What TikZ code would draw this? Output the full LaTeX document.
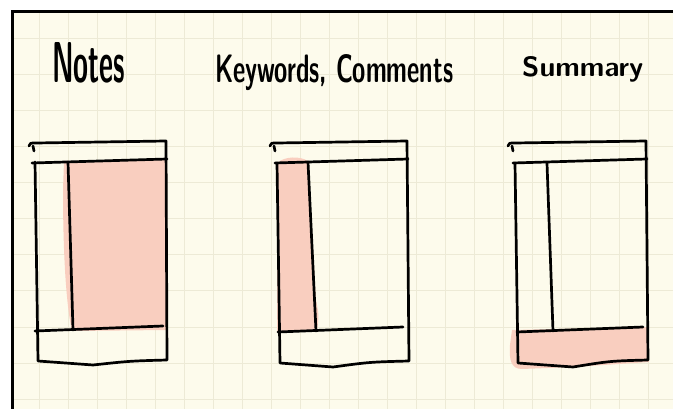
\documentclass[tikz,border=0pt]{standalone}
\usepackage{graphicx}
\definecolor{paper}{RGB}{253,251,236}
\definecolor{gridc}{RGB}{237,234,214}
\definecolor{pinkfill}{RGB}{249,206,191}
\begin{document}
\begin{tikzpicture}[x=1pt,y=-1pt,
  pen/.style={line width=2.7pt, line cap=round, line join=round, black},
  gridline/.style={gridc, line width=1pt},
  hl/.style={pinkfill},
  label/.style={anchor=base west, inner sep=0pt, font=\sffamily\bfseries}]
\useasboundingbox (0,0) rectangle (673,409);
\fill[white] (0,0) rectangle (673,409);
\fill[paper] (12,12) rectangle (673,409);
\begin{scope}
  \clip (12,12) rectangle (673,409);
  \foreach \i in {1,...,23} \draw[gridline] ({10+29*\i},12) -- ({10+29*\i},409);
  \foreach \j in {0,...,10} \draw[gridline] (12,{39+36*\j}) -- (673,{39+36*\j});
\end{scope}
\draw[line width=3pt] (12.5,409) -- (12.5,11.5) -- (673,11.5);

% labels
\node[label] (notes) at (52,83) {\resizebox{73pt}{40pt}{Notes}};
\node[label] (kw) at (215,83) {\resizebox{238pt}{28pt}{Keywords, Comments}};
\node[label] (sum) at (522,77) {\resizebox{121pt}{20pt}{Summary}};

% pink highlights
\fill[hl] (64,161) -- (167,159) -- (167,330) -- (72,331) .. controls (65,300) and (63,240) .. (63,190) -- cycle;
\fill[hl] (277,163) .. controls (285,156) and (300,156) .. (308,161) -- (316,300) .. controls (319,315) .. (317,331) -- (277,332) -- cycle;
\fill[hl] (512,330) -- (648,327) -- (649,362) -- (573,367) -- (522,369) .. controls (511,369) and (509,360) .. (510,345) -- cycle;

% box 1 (Notes)
\draw[pen] (29,146) .. controls (30,143) .. (36,143) -- (166,141) -- (167,360) .. controls (130,361) .. (93,365) -- (38,361) -- (35,162);
\draw[pen] (33,146) -- (34,151);
\draw[pen] (32,163) -- (167,159);
\draw[pen] (68,162) -- (73,330);
\draw[pen] (35,331) -- (163,326);

% box 2 (Keywords, Comments)
\draw[pen] (270,146) .. controls (271,143) .. (277,143) -- (407,141) -- (409,361) .. controls (370,362) .. (333,367) -- (280,363) -- (277,163);
\draw[pen] (274,146) -- (275,151);
\draw[pen] (275,163) -- (408,159);
\draw[pen] (308,162) -- (316,331);
\draw[pen] (278,332) -- (403,327);

% box 3 (Summary)
\draw[pen] (508,146) .. controls (509,143) .. (515,143) -- (646,141) -- (648,360) .. controls (610,361) .. (573,367) -- (518,363) -- (515,163);
\draw[pen] (512,146) -- (513,151);
\draw[pen] (513,163) -- (647,159);
\draw[pen] (547,163) -- (553,331);
\draw[pen] (517,332) -- (643,327);
\end{tikzpicture}
\end{document}
